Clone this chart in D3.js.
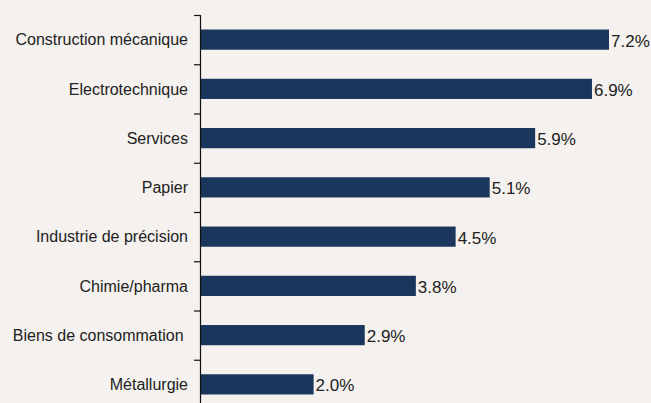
<!DOCTYPE html>
<html>
<head>
<meta charset="utf-8">
<script src="https://cdn.jsdelivr.net/npm/d3@7"></script>
<style>
  html, body { margin: 0; padding: 0; background: #f4f1ee; }
  svg { display: block; font-family: "Liberation Sans", Arial, sans-serif; }
</style>
</head>
<body>
<div id="chart"></div>
<script>
// sectors and their growth share
const categories = [
  "Construction mécanique",
  "Electrotechnique",
  "Services",
  "Papier",
  "Industrie de précision",
  "Chimie/pharma",
  "Biens de consommation ",
  "Métallurgie"
];
const values = [7.2, 6.9, 5.9, 5.1, 4.5, 3.8, 2.9, 2.0];

const width = 651, height = 403;
const axisX = 200;

const svg = d3.select("#chart").append("svg")
  .attr("width", width)
  .attr("height", height);

svg.append("rect")
  .attr("width", width)
  .attr("height", height)
  .attr("fill", "#f4f1ee");

const x = d3.scaleLinear()
  .domain([0, 7.2])
  .range([axisX, 609]);

const y = d3.scaleBand()
  .domain(categories)
  .range([15, 409])
  .paddingInner(0.59)
  .paddingOuter(0.295);

const step = y.step();

// bars
svg.selectAll("rect.bar")
  .data(categories)
  .enter().append("rect")
  .attr("class", "bar")
  .attr("x", x(0))
  .attr("y", d => y(d))
  .attr("width", (d, i) => x(values[i]) - x(0))
  .attr("height", y.bandwidth())
  .attr("fill", "#1a365c");

// axis line and ticks between bands
svg.append("line")
  .attr("x1", axisX + 0.5).attr("x2", axisX + 0.5)
  .attr("y1", 15).attr("y2", height)
  .attr("stroke", "#111").attr("stroke-width", 1.2);

svg.selectAll("line.tick")
  .data(d3.range(categories.length + 1))
  .enter().append("line")
  .attr("class", "tick")
  .attr("x1", axisX - 6).attr("x2", axisX + 0.5)
  .attr("y1", i => 15 + i * step + 0.5)
  .attr("y2", i => 15 + i * step + 0.5)
  .attr("stroke", "#111").attr("stroke-width", 1.2);

// category labels
svg.selectAll("text.cat")
  .data(categories)
  .enter().append("text")
  .attr("class", "cat")
  .attr("x", 188)
  .attr("y", d => y(d) + y.bandwidth() / 2)
  .attr("dy", "0.36em")
  .attr("text-anchor", "end")
  .attr("xml:space", "preserve")
  .style("font-size", "16px")
  .style("fill", "#222")
  .text(d => d);

// value labels
svg.selectAll("text.val")
  .data(categories)
  .enter().append("text")
  .attr("class", "val")
  .attr("x", (d, i) => x(values[i]) + 2)
  .attr("y", d => y(d) + y.bandwidth() / 2 + 1)
  .attr("dy", "0.36em")
  .style("font-size", "17px")
  .style("fill", "#222")
  .text((d, i) => values[i].toFixed(1) + "%");
</script>
</body>
</html>
